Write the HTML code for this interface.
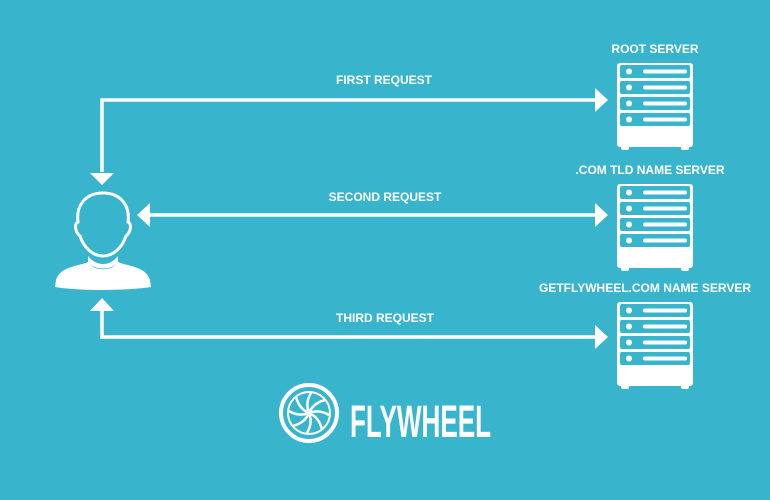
<!DOCTYPE html>
<html><head><meta charset="utf-8"><style>
html,body{margin:0;padding:0;background:#38b4cc;}
svg{display:block}
text{font-family:"Liberation Sans",sans-serif;font-weight:bold;fill:#fff}
</style></head><body>
<svg width="770" height="500" viewBox="0 0 770 500">
<rect width="770" height="500" fill="#38b4cc"/>
<defs>
<g id="srv">
<rect x="0" y="0" width="76" height="84" rx="3" fill="#fff"/>
<rect x="4" y="81" width="8" height="6" rx="2" fill="#fff"/>
<rect x="64" y="81" width="8" height="6" rx="2" fill="#fff"/>
<g fill="#38b4cc">
<rect x="3" y="2" width="70" height="13" rx="2"/>
<rect x="3" y="18" width="70" height="13" rx="2"/>
<rect x="3" y="34" width="70" height="13" rx="2"/>
<rect x="3" y="50" width="70" height="13" rx="2"/>
</g>
<g fill="#fff">
<circle cx="12" cy="8.5" r="3"/><rect x="26" y="6.5" width="44" height="4" rx="2"/>
<circle cx="12" cy="24.5" r="3"/><rect x="26" y="22.5" width="44" height="4" rx="2"/>
<circle cx="12" cy="40.5" r="3"/><rect x="26" y="38.5" width="44" height="4" rx="2"/>
<circle cx="12" cy="56.5" r="3"/><rect x="26" y="54.5" width="44" height="4" rx="2"/>
</g>
</g>
</defs>
<use href="#srv" x="617" y="63"/>
<use href="#srv" x="617" y="184"/>
<use href="#srv" x="617" y="302"/>
<text x="655" y="53" font-size="12" text-anchor="middle">ROOT SERVER</text>
<text x="650" y="174" font-size="12" text-anchor="middle">.COM TLD NAME SERVER</text>
<text x="645" y="292" font-size="12" text-anchor="middle">GETFLYWHEEL.COM NAME SERVER</text>
<text x="384" y="84" font-size="12" text-anchor="middle">FIRST REQUEST</text>
<text x="385" y="201" font-size="12" text-anchor="middle">SECOND REQUEST</text>
<text x="385" y="322" font-size="12" text-anchor="middle">THIRD REQUEST</text>
<g stroke="#fff" stroke-width="3.5" fill="none">
<polyline points="102,172 102,100 596,100"/>
<line x1="148" y1="215" x2="596" y2="215"/>
<polyline points="102,308 102,337 596,337"/>
</g>
<g fill="#fff">
<polygon points="595,88 608,100 595,112"/>
<polygon points="595,203 608,215 595,227"/>
<polygon points="595,325 608,337 595,349"/>
<polygon points="90,173 114,173 102,185"/>
<polygon points="137,215 150,203 150,227"/>
<polygon points="90,311 114,311 102,298"/>
</g>
<path d="M103,193 C84,193 76,207 78,222 C74,224 75,232 80,236 C84,248 93,256 103,256 C113,256 122,248 126,236 C131,232 132,224 128,222 C130,207 122,193 103,193 Z" fill="none" stroke="#fff" stroke-width="3"/>
<path d="M88,256 L88,262 C80,266 60,266 56,280 L55,287 C80,291 126,291 151,287 L150,280 C146,266 126,266 118,262 L118,256 C113,262 108,264 103,264 C98,264 93,262 88,256 Z M90,264 C95,270 111,270 116,264 C112,271 94,271 90,264Z" fill="#fff"/>
<circle cx="309" cy="413" r="28" fill="none" stroke="#fff" stroke-width="4"/>
<circle cx="309" cy="413" r="21" fill="none" stroke="#fff" stroke-width="2"/>
<g stroke="#fff" stroke-width="2.5" fill="none">
<path d="M309,413 q-4,-10 2,-20" transform="rotate(0 309 413)"/>
<path d="M309,413 q-4,-10 2,-20" transform="rotate(45 309 413)"/>
<path d="M309,413 q-4,-10 2,-20" transform="rotate(90 309 413)"/>
<path d="M309,413 q-4,-10 2,-20" transform="rotate(135 309 413)"/>
<path d="M309,413 q-4,-10 2,-20" transform="rotate(180 309 413)"/>
<path d="M309,413 q-4,-10 2,-20" transform="rotate(225 309 413)"/>
<path d="M309,413 q-4,-10 2,-20" transform="rotate(270 309 413)"/>
<path d="M309,413 q-4,-10 2,-20" transform="rotate(315 309 413)"/>
</g>
<text x="0" y="0" font-size="45" transform="translate(350,437) scale(0.58,1)">FLYWHEEL</text>
</svg>
</body></html>
